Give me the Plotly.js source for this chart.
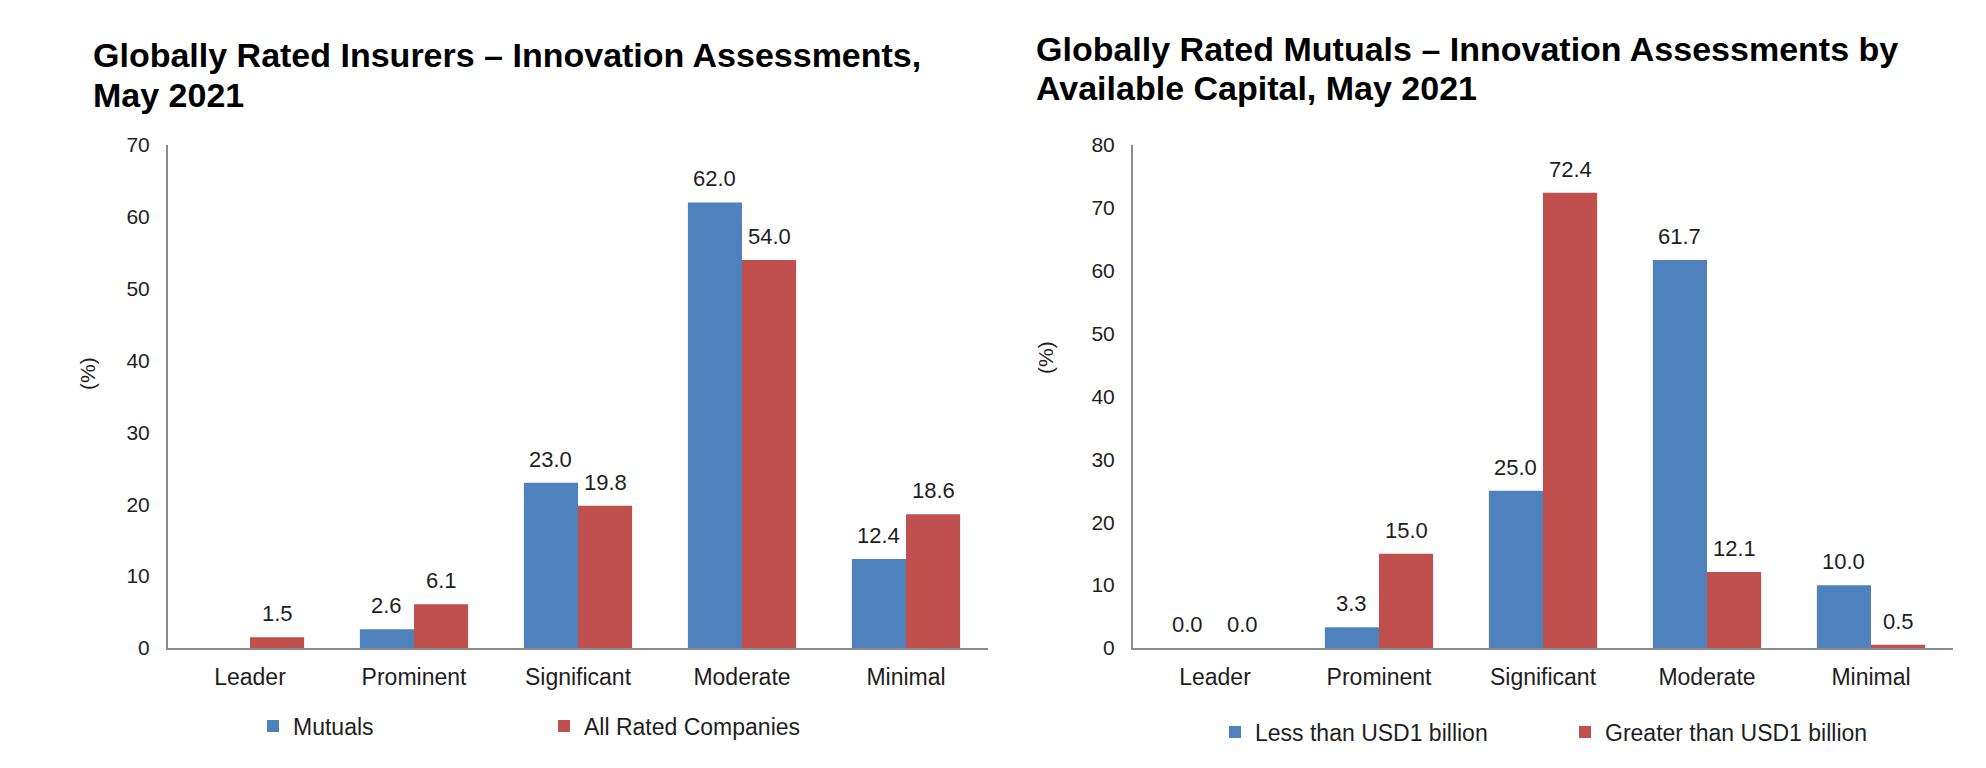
<!DOCTYPE html>
<html>
<head>
<meta charset="utf-8">
<script src="https://cdn.plot.ly/plotly-3.0.1.min.js"></script>
<style>
html,body{margin:0;padding:0;background:#fff;}
#chart{width:1986px;height:768px;}
</style>
</head>
<body>
<div id="chart"></div>
<script>
// ---- Data ----
const categories = ['Leader', 'Prominent', 'Significant', 'Moderate', 'Minimal'];

// Left chart: Globally Rated Insurers
const mutualsShare = [null, 2.6, 23.0, 62.0, 12.4];
const allRatedShare = [1.5, 6.1, 19.8, 54.0, 18.6];

// Right chart: Globally Rated Mutuals by available capital
const lessThan1bnShare = [0.0, 3.3, 25.0, 61.7, 10.0];
const greaterThan1bnShare = [0.0, 15.0, 72.4, 12.1, 0.5];

const leftTitleLines = ['Globally Rated Insurers \u2013 Innovation Assessments,', 'May 2021'];
const rightTitleLines = ['Globally Rated Mutuals \u2013 Innovation Assessments by', 'Available Capital, May 2021'];
const leftYTicks = [0, 10, 20, 30, 40, 50, 60, 70];
const rightYTicks = [0, 10, 20, 30, 40, 50, 60, 70, 80];

// ---- Styling ----
const W = 1986, H = 768;
const BLUE = '#4F81BD', RED = '#C0504D';
const TXT = '#1e1e1e';
const AXIS = '#8c8c8c';
const FONT = 'Liberation Sans, Arial, sans-serif';
const bargap = 0.34;

const leftDom = [168 / W, 988 / W];
const rightDom = [1133 / W, 1953 / W];
const yDom = [(H - 648) / H, (H - 145) / H];

function barHalfWidth(dom) {
  const catPx = (dom[1] - dom[0]) * W / categories.length;
  return catPx * (1 - bargap) / 4;
}

const traces = [
  {type: 'bar', name: 'Mutuals', x: categories, y: mutualsShare, xaxis: 'x', yaxis: 'y',
   marker: {color: BLUE, line: {width: 0}}, legend: 'legend'},
  {type: 'bar', name: 'All Rated Companies', x: categories, y: allRatedShare, xaxis: 'x', yaxis: 'y',
   marker: {color: RED, line: {width: 0}}, legend: 'legend'},
  {type: 'bar', name: 'Less than USD1 billion', x: categories, y: lessThan1bnShare, xaxis: 'x2', yaxis: 'y2',
   marker: {color: BLUE, line: {width: 0}}, legend: 'legend2'},
  {type: 'bar', name: 'Greater than USD1 billion', x: categories, y: greaterThan1bnShare, xaxis: 'x2', yaxis: 'y2',
   marker: {color: RED, line: {width: 0}}, legend: 'legend2'}
];

const annotations = [];
function addLabels(values, axX, axY, side, dom) {
  const shift = barHalfWidth(dom);
  values.forEach((v, i) => {
    if (v === null || v === undefined) return;
    annotations.push({
      xref: axX, yref: axY, x: categories[i], y: v,
      text: v.toFixed(1), showarrow: false,
      xanchor: 'center', yanchor: 'bottom',
      xshift: side * shift, yshift: 9,
      font: {family: FONT, size: 22, color: TXT}
    });
  });
}
addLabels(mutualsShare, 'x', 'y', -1, leftDom);
addLabels(allRatedShare, 'x', 'y', 1, leftDom);
addLabels(lessThan1bnShare, 'x2', 'y2', -1, rightDom);
addLabels(greaterThan1bnShare, 'x2', 'y2', 1, rightDom);

// Titles (one annotation per line for Excel-like line spacing)
function addTitle(lines, xPx, yCentersPx) {
  lines.forEach((ln, i) => {
    annotations.push({xref: 'paper', yref: 'paper', x: xPx / W, y: (H - yCentersPx[i]) / H,
      xanchor: 'left', yanchor: 'middle', align: 'left', showarrow: false,
      text: '<b>' + ln + '</b>', font: {family: FONT, size: 34, color: '#000'}});
  });
}
addTitle(leftTitleLines, 91, [55, 95]);
addTitle(rightTitleLines, 1034, [49, 88]);

// Y-axis titles
annotations.push({xref: 'paper', yref: 'paper', x: 87 / W, y: (H - 374) / H, xanchor: 'center', yanchor: 'middle',
  textangle: -90, showarrow: false, text: '(%)', font: {family: FONT, size: 21, color: TXT}});
annotations.push({xref: 'paper', yref: 'paper', x: 1045 / W, y: (H - 358) / H, xanchor: 'center', yanchor: 'middle',
  textangle: -90, showarrow: false, text: '(%)', font: {family: FONT, size: 21, color: TXT}});

function xAxis(dom, anchor) {
  return {domain: dom, anchor: anchor, type: 'category', showline: true, linecolor: AXIS, linewidth: 2,
    ticks: '', showgrid: false, zeroline: false, ticklabelstandoff: 7,
    tickfont: {family: FONT, size: 23, color: TXT}, fixedrange: true};
}
function yAxis(range, vals, anchor) {
  return {domain: yDom, anchor: anchor, range: range, tickvals: vals, ticktext: vals.map(String),
    showline: true, linecolor: AXIS, linewidth: 2, ticks: '', showgrid: false, zeroline: false,
    ticklabelstandoff: 12, tickfont: {family: FONT, size: 21, color: TXT}, fixedrange: true};
}

const legendBase = {orientation: 'h', xanchor: 'left', yanchor: 'middle',
  font: {family: FONT, size: 23, color: TXT}, bgcolor: 'rgba(0,0,0,0)', borderwidth: 0,
  itemwidth: 30, entrywidthmode: 'pixels', traceorder: 'normal', itemclick: false, itemdoubleclick: false};

const layout = {
  width: W, height: H,
  margin: {l: 0, r: 0, t: 0, b: 0},
  paper_bgcolor: '#fff', plot_bgcolor: '#fff',
  font: {family: FONT, color: TXT},
  barmode: 'group', bargap: bargap, bargroupgap: 0,
  showlegend: true, hovermode: false,
  xaxis: xAxis(leftDom, 'y'),
  yaxis: yAxis([0, 70], leftYTicks, 'x'),
  xaxis2: xAxis(rightDom, 'y2'),
  yaxis2: yAxis([0, 80], rightYTicks, 'x2'),
  legend: Object.assign({}, legendBase, {x: 253 / W, y: (H - 726) / H, entrywidth: 246}),
  legend2: Object.assign({}, legendBase, {x: 1215 / W, y: (H - 732) / H, entrywidth: 305}),
  annotations: annotations
};

Plotly.newPlot('chart', traces, layout, {staticPlot: true, displayModeBar: false});
</script>
</body>
</html>
